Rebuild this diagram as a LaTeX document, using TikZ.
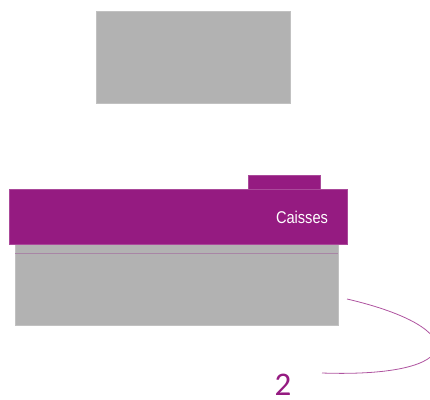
\documentclass[tikz,border=0pt]{standalone}
\usepackage{fontspec}
\setmainfont{Liberation Sans}
\newfontfamily\numfont{Carlito}
\definecolor{plum}{HTML}{951B81}
\definecolor{boxgray}{HTML}{B2B2B2}
\definecolor{seam}{HTML}{A885A5}
\begin{document}
\begin{tikzpicture}[x=1pt,y=-1pt,
  graybox/.style={fill=boxgray,draw=boxgray!80!white,line width=0.6pt},
  plumbox/.style={fill=plum,draw=plum!80!white,line width=0.6pt},
  link/.style={draw=plum!75!white,line width=0.8pt}]
\useasboundingbox (0,0) rectangle (430,399);
% top gray block
\draw[graybox] (96.7,11) rectangle (290.3,103);
% lower gray block
\draw[graybox] (15,244) rectangle (338.3,325.7);
\draw[seam,line width=0.9pt] (15,253) -- (338.3,253);
% tab
\draw[plumbox] (248,175) rectangle (320.5,190);
% purple bar
\draw[plumbox] (9.5,189) rectangle (347.7,244.3);
\node[text=white,font=\fontsize{17}{17}\selectfont,xscale=0.86,anchor=center] (caisses) at (302,217) {Caisses};
% curve
\coordinate (c1) at (347,299);
\coordinate (c2) at (322,373);
\draw[link] (c1) .. controls (472,328) and (468,378) .. (c2);
\node[text=plum,font=\numfont\fontsize{33}{33}\selectfont,inner sep=0pt,anchor=base] (two) at (283,395) {2};
\end{tikzpicture}
\end{document}
